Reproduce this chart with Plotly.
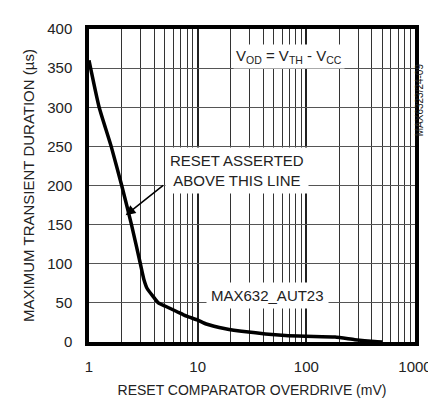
import plotly.graph_objects as go

# Data
overdrive_mv = [1, 1.24, 1.60, 2.0, 2.46, 2.97, 3.2, 3.44, 3.9, 4.35, 5, 6.4, 7.9, 10,
                12, 18, 28, 42, 64, 98, 184, 279, 424, 500]
duration_us = [360, 300, 250, 200, 150, 100, 80, 68, 58, 50, 46, 39, 33, 28,
               23, 17, 13, 10.3, 8.3, 7.3, 6.3, 3, 0.5, 0]

x_major = [1, 10, 100, 1000]
x_minor = [m * d for d in (1, 10, 100) for m in range(2, 10)]
y_ticks = list(range(0, 401, 50))

FONT = "Liberation Sans Narrow, Arial Narrow, Liberation Sans, Arial, sans-serif"
INK = "#222"

fig = go.Figure()
fig.add_trace(go.Scatter(
    x=overdrive_mv, y=duration_us, mode="lines",
    line=dict(color="black", width=3.5, shape="spline", smoothing=0.5),
    showlegend=False, hoverinfo="skip"))

fig.update_layout(
    width=436, height=401,
    margin=dict(l=81, r=26, t=16, b=57),
    paper_bgcolor="white", plot_bgcolor="white",
    font=dict(family=FONT, size=15, color=INK),
)

fig.update_xaxes(
    type="log", range=[0, 3],
    tickvals=x_major, ticktext=[str(v) for v in x_major],
    tickfont=dict(size=15),
    showgrid=True, gridcolor="#222", gridwidth=1.6,
    minor=dict(tickvals=x_minor, showgrid=True, gridcolor="#333", gridwidth=1.2, ticks=""),
    ticks="", showline=True, linecolor="black", linewidth=3.5, mirror=True,
    ticklabelstandoff=8,
    title=dict(text="RESET COMPARATOR OVERDRIVE (mV)", standoff=12,
               font=dict(family=FONT, size=14, color=INK)),
    zeroline=False,
)
fig.update_yaxes(
    range=[0, 400], tickvals=y_ticks,
    tickfont=dict(size=15),
    showgrid=True, gridcolor="#555", gridwidth=1.2,
    ticks="", showline=True, linecolor="black", linewidth=3.5, mirror=True,
    ticklabelstandoff=10,
    title=dict(text="MAXIMUM TRANSIENT DURATION (µs)", standoff=10,
               font=dict(family=FONT, size=15, color=INK)),
    zeroline=False,
)

ann_font = dict(family=FONT, size=15, color=INK)
fig.add_annotation(xref="paper", yref="paper", x=0.784, y=0.951,
                   text="V<sub>OD</sub> = V<sub>TH</sub> - V<sub>CC</sub>",
                   showarrow=False, bgcolor="white", borderpad=2, font=ann_font)
fig.add_annotation(xref="paper", yref="paper", x=0.453, y=0.548,
                   text="RESET ASSERTED<br>ABOVE THIS LINE",
                   showarrow=False, bgcolor="white", borderpad=4, font=ann_font)
fig.add_annotation(xref="paper", yref="paper", x=0.1125, y=0.405,
                   text="", showarrow=True, ax=39, ay=-31,
                   arrowhead=2, arrowsize=1.3, arrowwidth=1.5, arrowcolor="black")
fig.add_annotation(xref="paper", yref="paper", x=0.547, y=0.107,
                   text="MAX632_AUT23", showarrow=False, bgcolor="white",
                   borderpad=4, font=ann_font)
fig.add_annotation(xref="paper", yref="paper", x=1.036, y=0.896,
                   text="MAX6323/24-09", textangle=-90, showarrow=False,
                   font=dict(family=FONT, size=10, color=INK))

fig.write_html("out.html")
